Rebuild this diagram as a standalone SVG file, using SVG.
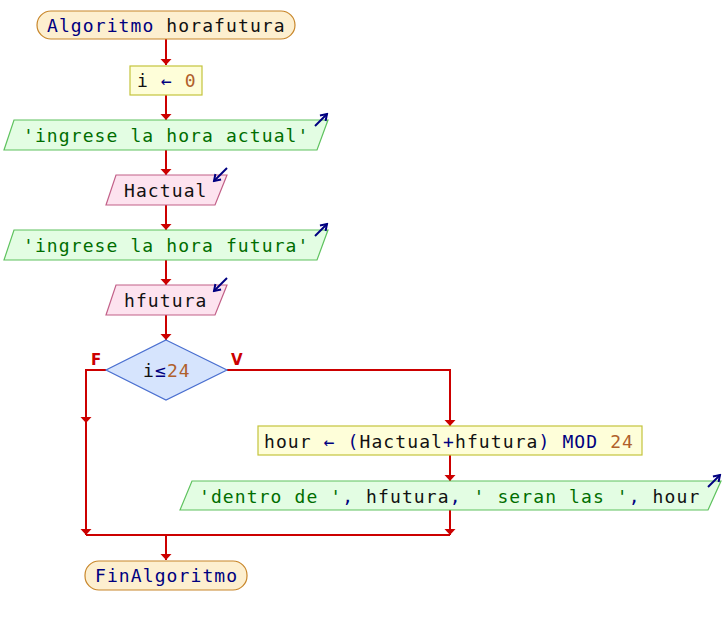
<svg xmlns="http://www.w3.org/2000/svg" width="724" height="625" viewBox="0 0 724 625">
<defs>
<marker id="ah" markerUnits="userSpaceOnUse" markerWidth="12" markerHeight="8" refX="6" refY="7" orient="0" viewBox="0 0 12 8">
<path d="M0.5,1 L11.5,1 L6,7 Z" fill="#cc0000"/>
</marker>
<marker id="io" markerUnits="userSpaceOnUse" markerWidth="10" markerHeight="10" refX="8" refY="5" orient="auto" viewBox="0 0 10 10">
<path d="M2,1 L8,5 L2,9" fill="none" stroke="#000080" stroke-width="2"/>
</marker>
<style>
.t{font-family:"DejaVu Sans Mono","Liberation Mono",monospace;font-size:18px;letter-spacing:1.1px;fill:#111}
.k{fill:#000080}.s{fill:#006e00}.n{fill:#b0602c}
.c{stroke:#cc0000;stroke-width:2;fill:none}
.term{fill:#fdefcf;stroke:#c8862a;stroke-width:1.2}
.asg{fill:#fefed9;stroke:#c4c43c;stroke-width:1.2}
.out{fill:#e3fde3;stroke:#5ec25e;stroke-width:1.2}
.inp{fill:#fde3ef;stroke:#c26088;stroke-width:1.2}
.dec{fill:#d6e4fd;stroke:#4a6fd0;stroke-width:1.2}
.ic{stroke:#000080;stroke-width:2;fill:none}
.lb{font-family:"DejaVu Sans","Liberation Sans",sans-serif;font-size:15px;font-weight:bold;fill:#cc0000}
</style>
</defs>
<rect width="724" height="625" fill="#ffffff"/>
<g id="connectors">
<line class="c" x1="166" y1="39" x2="166" y2="65" marker-end="url(#ah)"/>
<line class="c" x1="166" y1="95" x2="166" y2="120" marker-end="url(#ah)"/>
<line class="c" x1="166" y1="150" x2="166" y2="175" marker-end="url(#ah)"/>
<line class="c" x1="166" y1="205" x2="166" y2="230" marker-end="url(#ah)"/>
<line class="c" x1="166" y1="260" x2="166" y2="285" marker-end="url(#ah)"/>
<line class="c" x1="166" y1="315" x2="166" y2="340" marker-end="url(#ah)"/>
<polyline class="c" points="106,370 86,370 86,423" marker-end="url(#ah)"/>
<line class="c" x1="86" y1="422" x2="86" y2="535" marker-end="url(#ah)"/>
<polyline class="c" points="227,370 450,370 450,426" marker-end="url(#ah)"/>
<line class="c" x1="450" y1="455" x2="450" y2="481" marker-end="url(#ah)"/>
<line class="c" x1="450" y1="510" x2="450" y2="535" marker-end="url(#ah)"/>
<line class="c" x1="86" y1="535" x2="450" y2="535"/>
<line class="c" x1="166" y1="535" x2="166" y2="560" marker-end="url(#ah)"/>
<text class="lb" x="91" y="365">F</text>
<text class="lb" x="231" y="365">V</text>
</g>
<g id="start">
<rect class="term" x="37" y="11" width="258" height="28" rx="14"/>
<text class="t" x="47" y="32"><tspan class="k">Algoritmo</tspan> horafutura</text>
</g>
<g id="assign1">
<rect class="asg" x="130" y="66" width="72" height="29"/>
<text class="t" x="137" y="87">i <tspan class="k">←</tspan> <tspan class="n">0</tspan></text>
</g>
<g id="out1">
<polygon class="out" points="14,120 328,120 317,150 4,150"/>
<text class="t s" x="23" y="142">'ingrese la hora actual'</text>
<line class="ic" x1="315" y1="126" x2="327" y2="114" marker-end="url(#io)"/>
</g>
<g id="in1">
<polygon class="inp" points="116,175 227,175 215,205 106,205"/>
<text class="t" x="124" y="197">Hactual</text>
<line class="ic" x1="227" y1="168" x2="214" y2="181" marker-end="url(#io)"/>
</g>
<g id="out2">
<polygon class="out" points="14,230 328,230 317,260 4,260"/>
<text class="t s" x="23" y="252">'ingrese la hora futura'</text>
<line class="ic" x1="315" y1="236" x2="327" y2="224" marker-end="url(#io)"/>
</g>
<g id="in2">
<polygon class="inp" points="116,285 227,285 215,315 106,315"/>
<text class="t" x="124" y="307">hfutura</text>
<line class="ic" x1="227" y1="278" x2="214" y2="291" marker-end="url(#io)"/>
</g>
<g id="decision">
<polygon class="dec" points="166,340 227,370 166,400 106,370"/>
<text class="t" x="143" y="377">i<tspan class="k">≤</tspan><tspan class="n">24</tspan></text>
</g>
<g id="assign2">
<rect class="asg" x="258" y="426" width="384" height="29"/>
<text class="t" x="264" y="448">hour <tspan class="k">←</tspan> <tspan class="k">(</tspan>Hactual<tspan class="k">+</tspan>hfutura<tspan class="k">)</tspan> <tspan class="k">MOD</tspan> <tspan class="n">24</tspan></text>
</g>
<g id="out3">
<polygon class="out" points="192,481 721,481 708,510 180,510"/>
<text class="t" x="199" y="503"><tspan class="s">'dentro de '</tspan><tspan class="k">,</tspan> hfutura<tspan class="k">,</tspan> <tspan class="s">' seran las '</tspan><tspan class="k">,</tspan> hour</text>
<line class="ic" x1="708" y1="487" x2="720" y2="475" marker-end="url(#io)"/>
</g>
<g id="end">
<rect class="term" x="85" y="561" width="162" height="29" rx="14"/>
<text class="t k" x="95" y="582">FinAlgoritmo</text>
</g>
</svg>
